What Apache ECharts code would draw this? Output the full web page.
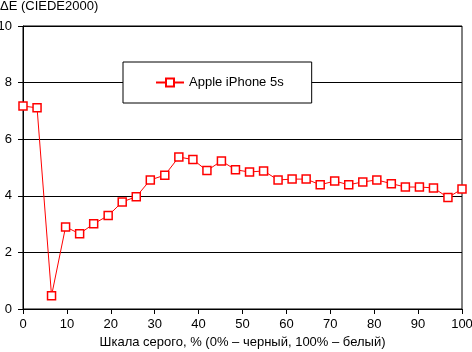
<!DOCTYPE html>
<html>
<head>
<meta charset="utf-8">
<script src="https://cdn.jsdelivr.net/npm/echarts@6/dist/echarts.min.js"></script>
<style>
html, body { margin: 0; padding: 0; background: #fff; }
#chart { width: 472px; height: 352px; }
</style>
</head>
<body>
<div id="chart"></div>
<script>
const grayLevels = [0, 3.2, 6.5, 9.7, 12.9, 16.1, 19.4, 22.6, 25.8, 29.0, 32.3, 35.5, 38.7, 41.9, 45.2, 48.4,
    51.6, 54.8, 58.1, 61.3, 64.5, 67.7, 71.0, 74.2, 77.4, 80.6, 83.9, 87.1, 90.3, 93.5, 96.8, 100];
const deltaE = [7.17, 7.11, 0.47, 2.90, 2.66, 3.01, 3.30, 3.78, 3.97, 4.56, 4.73, 5.37, 5.28, 4.89, 5.23, 4.92,
    4.84, 4.88, 4.56, 4.59, 4.59, 4.39, 4.52, 4.39, 4.49, 4.56, 4.43, 4.31, 4.31, 4.28, 3.94, 4.24];
const seriesName = "Apple iPhone 5s";

const FONT = "Arial, 'Liberation Sans', sans-serif";

const chart = echarts.init(document.getElementById("chart"));

chart.setOption({
    animation: false,
    textStyle: { fontFamily: FONT },
    title: {
        text: "ΔE (CIEDE2000)",
        left: 0,
        top: 0,
        padding: 0,
        textStyle: { fontSize: 13, fontWeight: "normal", color: "#000", fontFamily: FONT }
    },
    legend: {
        left: 123,
        top: 62,
        padding: [14, 28, 14, 32],
        backgroundColor: "#fff",
        borderColor: "#000",
        borderWidth: 1,
        itemWidth: 28,
        itemHeight: 10,
        itemGap: 5,
        textStyle: { fontSize: 13, color: "#000", fontFamily: FONT },
        data: [seriesName]
    },
    grid: {
        left: 23,
        right: 10,
        top: 26,
        bottom: 43,
        containLabel: false,
        outerBoundsMode: "none",
        show: true,
        borderColor: "#000",
        borderWidth: 1
    },
    xAxis: {
        type: "value",
        min: 0,
        max: 100,
        interval: 10,
        name: "Шкала серого, % (0% – черный, 100% – белый)",
        nameLocation: "middle",
        nameGap: 21,
        nameTextStyle: { fontSize: 13, color: "#000", fontFamily: FONT },
        axisLine: { lineStyle: { color: "#000", width: 1 } },
        axisTick: { show: true, length: 5, lineStyle: { color: "#000" } },
        axisLabel: { fontSize: 13, color: "#000", margin: 9, fontFamily: FONT },
        splitLine: { show: false }
    },
    yAxis: {
        type: "value",
        min: 0,
        max: 10,
        interval: 2,
        axisLine: { show: true, lineStyle: { color: "#000", width: 1 } },
        axisTick: { show: true, length: 5, lineStyle: { color: "#000" } },
        axisLabel: { fontSize: 13, color: "#000", margin: 11, fontFamily: FONT },
        splitLine: { show: true, lineStyle: { color: "#000", width: 1 } }
    },
    series: [
        {
            name: seriesName,
            type: "line",
            data: grayLevels.map((x, i) => [x, deltaE[i]]),
            symbol: "rect",
            symbolSize: 8,
            showAllSymbol: true,
            lineStyle: { color: "#ff0000", width: 1 },
            itemStyle: { color: "#fff", borderColor: "#ff0000", borderWidth: 1.5 },
            z: 3
        }
    ]
});
</script>
</body>
</html>
